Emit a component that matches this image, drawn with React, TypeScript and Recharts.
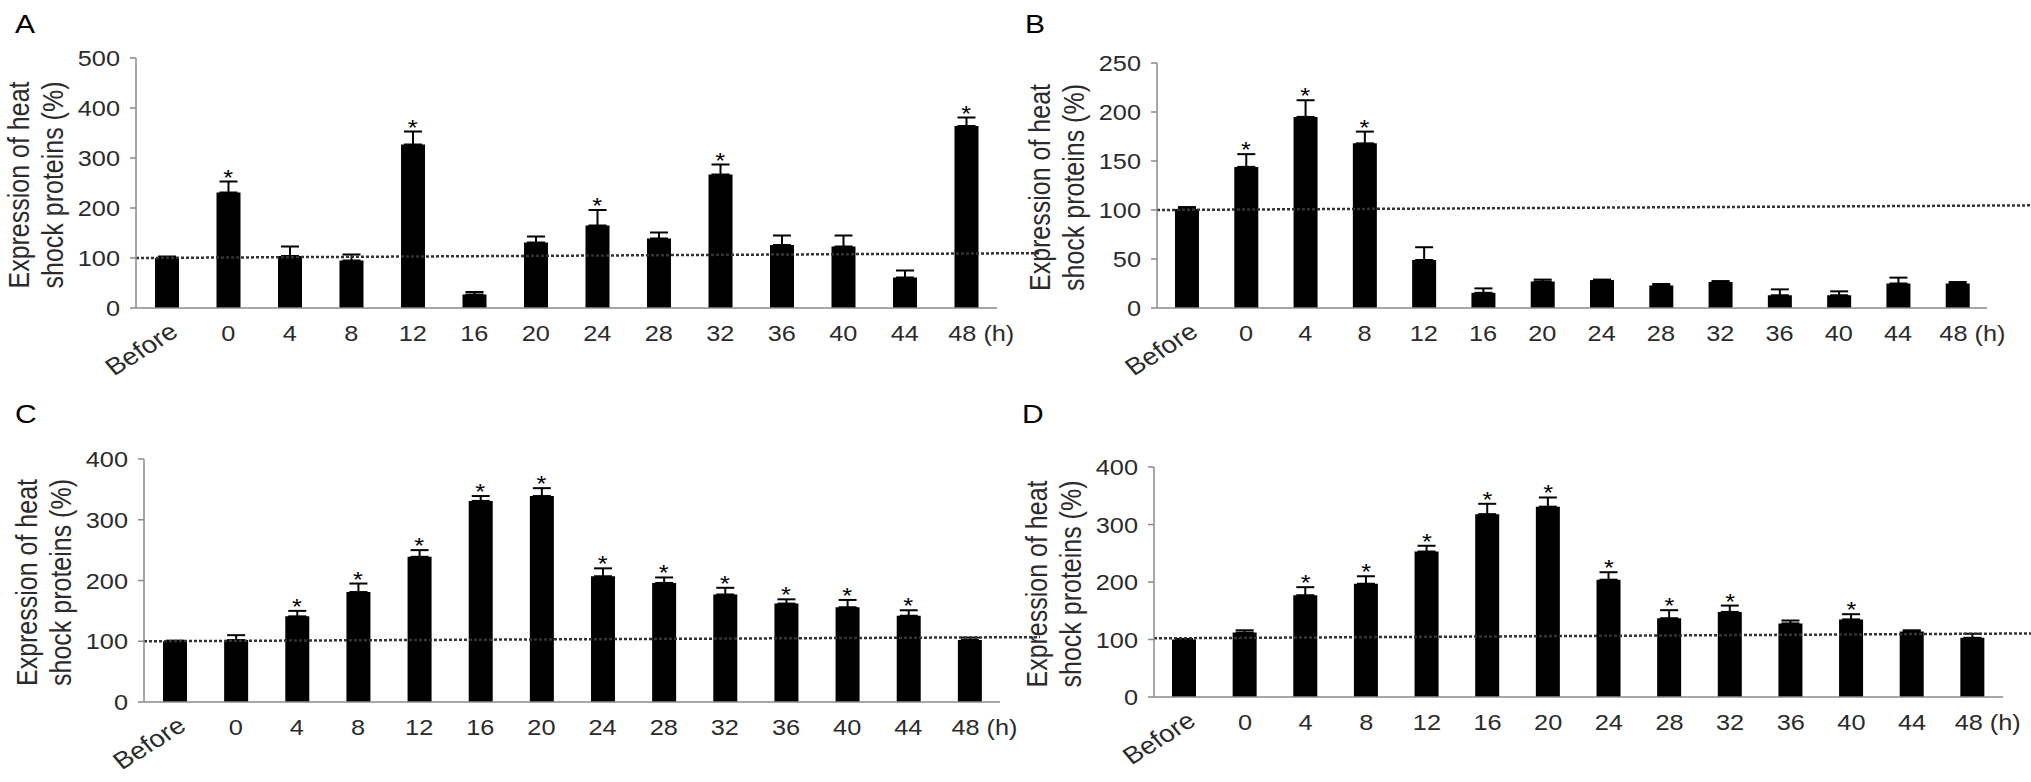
import React from 'react'
import { ComposedChart, Bar, ErrorBar, Scatter, XAxis, YAxis, ReferenceLine } from 'recharts'

// Sampling points: before heat shock, then hours after it
const HOURS = ['Before', '0', '4', '8', '12', '16', '20', '24', '28', '32', '36', '40', '44', '48']
// Band edges on the 0..14 helper axis (minor ticks between categories)
const EDGE_TICKS = [0, 1, 2, 3, 4, 5, 6, 7, 8, 9, 10, 11, 12, 13, 14]

// Panel A
const A_MEAN = [100, 231, 104, 95, 327, 27, 131, 165, 139, 267, 126, 123, 61, 364]
const A_SD = [3, 22, 19, 12, 26, 5, 12, 31, 12, 20, 19, 22, 14, 17]
const A_SIG = [0, 1, 0, 0, 1, 0, 0, 1, 0, 1, 0, 0, 0, 1]
const A_TICKS = [0, 100, 200, 300, 400, 500]
const A_BASE = [100, 110]

// Panel B
const B_MEAN = [101, 144, 195, 168, 49, 15.5, 27, 28.5, 23, 26.5, 13, 13, 25, 25]
const B_SD = [2, 13, 17, 12, 13, 4.5, 2, 0.5, 1.5, 1, 6, 4, 6, 1.5]
const B_SIG = [0, 1, 1, 1, 0, 0, 0, 0, 0, 0, 0, 0, 0, 0]
const B_TICKS = [0, 50, 100, 150, 200, 250]
const B_BASE = [100, 105]

// Panel C
const C_MEAN = [100, 102, 141, 181, 239, 331, 339, 207, 196, 177, 162, 156, 142, 102]
const C_SD = [1, 8, 9, 14, 11, 8, 13, 13, 9, 11, 7, 12, 9, 4]
const C_SIG = [0, 0, 1, 1, 1, 1, 1, 1, 1, 1, 1, 1, 1, 0]
const C_TICKS = [0, 100, 200, 300, 400]
const C_BASE = [100, 107]

// Panel D
const D_MEAN = [100, 112, 177, 197, 253, 318, 331, 204, 137, 148, 128, 135, 114, 103]
const D_SD = [1, 4, 14, 13, 10, 18, 16, 13, 14, 11, 5, 9, 2, 7]
const D_SIG = [0, 0, 1, 1, 1, 1, 1, 1, 1, 1, 0, 1, 0, 0]
const D_TICKS = [0, 100, 200, 300, 400]
const D_BASE = [102, 111]

const TITLE_1 = 'Expression of heat'
const TITLE_2 = 'shock proteins (%)'

const FONT = "'Liberation Sans', Arial, Helvetica, sans-serif"
const INK = '#2b2b2b'
const AXIS = '#8a8a8a'
const STRETCH = 1.15
const Y_W = 60
const X_H = 60

const rows = (mean: number[], sd: number[], sig: number[]) =>
  HOURS.map((t, i) => ({
    t,
    mean: mean[i],
    err: [0, sd[i]],
    star: sig[i] ? mean[i] + sd[i] : null,
  }))

// left-column charts are a bit wider than their plot so "48 (h)" is not clipped
const PANELS = [
  { letter: 'A', left: 0, top: 0, width: 1040, height: 390, plot: { l: 136, r: 997, t: 58, b: 308 },
    data: rows(A_MEAN, A_SD, A_SIG), ticks: A_TICKS, base: A_BASE, baseEnd: 14, tickDir: 6,
    letterPos: [15, 33] },
  { letter: 'B', left: 1010, top: 0, width: 1021, height: 390, plot: { l: 1157, r: 1987, t: 63, b: 308 },
    data: rows(B_MEAN, B_SD, B_SIG), ticks: B_TICKS, base: B_BASE, baseEnd: 14.42, tickDir: 6,
    letterPos: [1025, 33] },
  { letter: 'C', left: 0, top: 390, width: 1040, height: 392, plot: { l: 144, r: 1000, t: 459, b: 702 },
    data: rows(C_MEAN, C_SD, C_SIG), ticks: C_TICKS, base: C_BASE, baseEnd: 14, tickDir: -6,
    letterPos: [15, 423] },
  { letter: 'D', left: 1010, top: 390, width: 1021, height: 392, plot: { l: 1154, r: 2003, t: 467, b: 697 },
    data: rows(D_MEAN, D_SD, D_SIG), ticks: D_TICKS, base: D_BASE, baseEnd: 14.15, tickDir: -6,
    letterPos: [1022, 423] },
]

function YTick({ x, y, payload }: any) {
  return (
    <text
      transform={`translate(${x - 10},${y + 8}) scale(${STRETCH},1)`}
      textAnchor="end" fontSize={22} fontFamily={FONT} fill={INK}
    >
      {payload.value}
    </text>
  )
}

function XTick({ x, y, payload }: any) {
  const v = payload.value
  if (v === 'Before') {
    return (
      <text
        transform={`translate(${x + 13},${y + 27}) scale(${STRETCH},1) rotate(-36)`}
        textAnchor="end" fontSize={24} fontFamily={FONT} fill={INK}
      >
        Before
      </text>
    )
  }
  if (v === '48') {
    return (
      <text
        transform={`translate(${x - 18},${y + 33}) scale(${STRETCH},1)`}
        textAnchor="start" fontSize={22} fontFamily={FONT} fill={INK}
      >
        48 (h)
      </text>
    )
  }
  return (
    <text
      transform={`translate(${x},${y + 33}) scale(${STRETCH},1)`}
      textAnchor="middle" fontSize={22} fontFamily={FONT} fill={INK}
    >
      {v}
    </text>
  )
}

// asterisk sitting just above the error bar cap
function Star({ cx, cy }: any) {
  if (cx == null || cy == null || Number.isNaN(cy)) return null
  return (
    <text
      transform={`translate(${cx},${cy + 3}) scale(${STRETCH},1)`}
      textAnchor="middle" fontSize={22} fontFamily={FONT} fill="#000"
    >
      *
    </text>
  )
}

function Panel({ p }: { p: (typeof PANELS)[number] }) {
  const margin = {
    left: p.plot.l - p.left - Y_W,
    right: p.left + p.width - p.plot.r,
    top: p.plot.t - p.top,
    bottom: p.top + p.height - p.plot.b - X_H,
  }
  const yMax = p.ticks[p.ticks.length - 1]
  return (
    <div style={{ position: 'absolute', left: p.left, top: p.top }}>
      <ComposedChart width={p.width} height={p.height} data={p.data} margin={margin}>
        <XAxis
          xAxisId="cat" dataKey="t" type="category" interval={0}
          tickSize={0} tickMargin={0} tickLine={false}
          axisLine={{ stroke: AXIS, strokeWidth: 1.5 }}
          tick={<XTick />} height={X_H}
        />
        <XAxis
          xAxisId="edge" type="number" domain={[0, 14]} ticks={EDGE_TICKS} interval={0}
          mirror tick={false} axisLine={false} height={1} allowDataOverflow
          tickSize={p.tickDir} tickLine={{ stroke: AXIS, strokeWidth: 1.5 }}
        />
        <YAxis
          yAxisId="v" domain={[0, yMax]} ticks={p.ticks} interval={0} allowDataOverflow
          tickSize={6} tickMargin={0} width={Y_W}
          axisLine={{ stroke: AXIS, strokeWidth: 1.5 }}
          tickLine={{ stroke: AXIS, strokeWidth: 1.5 }}
          tick={<YTick />}
        />
        <Bar xAxisId="cat" yAxisId="v" dataKey="mean" fill="#000" barSize={24} isAnimationActive={false}>
          <ErrorBar dataKey="err" direction="y" width={9} stroke="#000" strokeWidth={2} isAnimationActive={false} />
        </Bar>
        <ReferenceLine
          xAxisId="edge" yAxisId="v" ifOverflow="visible"
          segment={[{ x: 0, y: p.base[0] }, { x: p.baseEnd, y: p.base[1] }]}
          stroke="#333" strokeWidth={2.5} strokeDasharray="3 2"
        />
        <Scatter xAxisId="cat" yAxisId="v" dataKey="star" shape={<Star />} isAnimationActive={false} />
      </ComposedChart>
    </div>
  )
}

export default function App() {
  return (
    <div style={{ position: 'fixed', left: 0, top: 0, width: 2031, height: 782, background: '#fff', overflow: 'hidden' }}>
      {PANELS.map(p => <Panel key={p.letter} p={p} />)}
      <svg width={2031} height={782} style={{ position: 'absolute', left: 0, top: 0, pointerEvents: 'none' }}>
        {PANELS.map(p => {
          const cy = (p.plot.t + p.plot.b) / 2 + 2
          return (
            <g key={p.letter} fontFamily={FONT} fill={INK}>
              <text
                transform={`translate(${p.letterPos[0]},${p.letterPos[1]}) scale(1.2,1)`}
                fontSize={25} fill="#000"
              >
                {p.letter}
              </text>
              <text
                transform={`translate(${p.plot.l - 107},${cy}) scale(1.2,1) rotate(-90)`}
                textAnchor="middle" fontSize={25}
              >
                {TITLE_1}
              </text>
              <text
                transform={`translate(${p.plot.l - 73},${cy}) scale(1.2,1) rotate(-90)`}
                textAnchor="middle" fontSize={25}
              >
                {TITLE_2}
              </text>
            </g>
          )
        })}
      </svg>
    </div>
  )
}
